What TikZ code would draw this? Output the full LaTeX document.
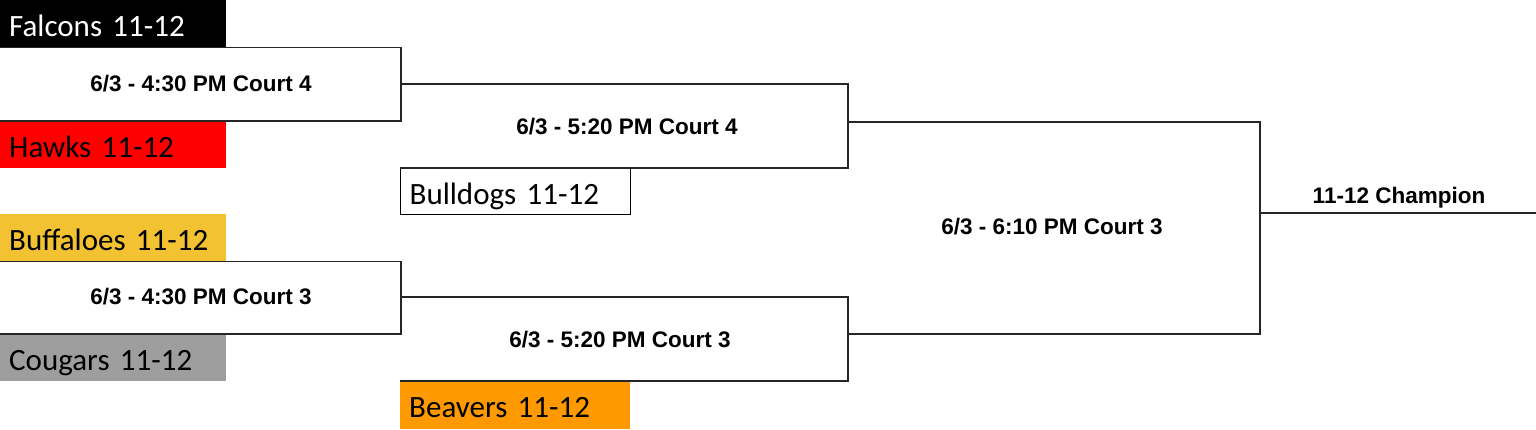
\documentclass[tikz,border=0pt]{standalone}
\usepackage{fontspec}
\setmainfont{Carlito}
\newfontfamily\gamefont{Liberation Sans}
\usetikzlibrary{positioning}
\definecolor{hawkred}{HTML}{FF0000}
\definecolor{buffyellow}{HTML}{F2C232}
\definecolor{cougargray}{HTML}{9E9E9E}
\definecolor{beaverorange}{HTML}{FF9900}
\tikzset{
  team/.style={anchor=north west, minimum width=226pt, minimum height=47pt,
    inner xsep=9pt, text width=208pt, align=left, text height=25pt, text depth=0pt,
    font=\fontsize{31}{31}\selectfont},
  game/.style={font=\gamefont\bfseries\fontsize{22.5}{22.5}\selectfont},
  bracket/.style={line width=1.3pt, black!85}
}

\begin{document}
\begin{tikzpicture}[x=1pt, y=-1pt]
			\useasboundingbox (0,0) rectangle (1536,429);
			% teams
			\node[team, fill=black, text=white] (falcons) at (0,0) {Falcons 11-12};
			\node[team, fill=hawkred] (hawks) at (0,121) {Hawks 11-12};
			\node[team, fill=buffyellow] (buffaloes) at (0,214) {Buffaloes 11-12};
			\node[team, fill=cougargray] (cougars) at (0,334) {Cougars 11-12};
			\node[team, draw, line width=1.3pt, minimum width=230pt, minimum height=46pt, text width=212pt] (bulldogs) at (400,168) {Bulldogs 11-12};
			\node[team, fill=beaverorange, minimum width=230pt, minimum height=48pt, text width=212pt] (beavers) at (400,381) {Beavers 11-12};
			% bracket joints
			\coordinate (m1) at (401,84);
			\coordinate (m2) at (401,297);
			\coordinate (m3) at (848,122);
			\coordinate (m4) at (848,334);
			\coordinate (m5) at (1260,213);
			\coordinate (champ) at (1536,213);
			\draw[bracket] (falcons.south west) -| (m1) |- (hawks.north west);
			\draw[bracket] (buffaloes.south west) -| (m2) |- (cougars.north west);
			\draw[bracket] (m1) -| (m3) |- (bulldogs.north west);
			\draw[bracket] (m2) -| (m4) |- (beavers.north west);
			\draw[bracket] (m3) -| (m5) |- (m4);
			\draw[bracket] (m5) -- (champ);
			% games
			\node[game] (g1) at (201,84) {6/3 - 4:30 PM Court 4};
			\node[game] (g2) at (201,297) {6/3 - 4:30 PM Court 3};
			\node[game] (g3) at (627,127) {6/3 - 5:20 PM Court 4};
			\node[game] (g4) at (620,340) {6/3 - 5:20 PM Court 3};
			\node[game] (g5) at (1052,227) {6/3 - 6:10 PM Court 3};
			\node[game, font=\gamefont\bfseries\fontsize{22.5}{22.5}\selectfont] (winner) at (1399,198) {11-12 Champion};
		\end{tikzpicture}
\end{document}
